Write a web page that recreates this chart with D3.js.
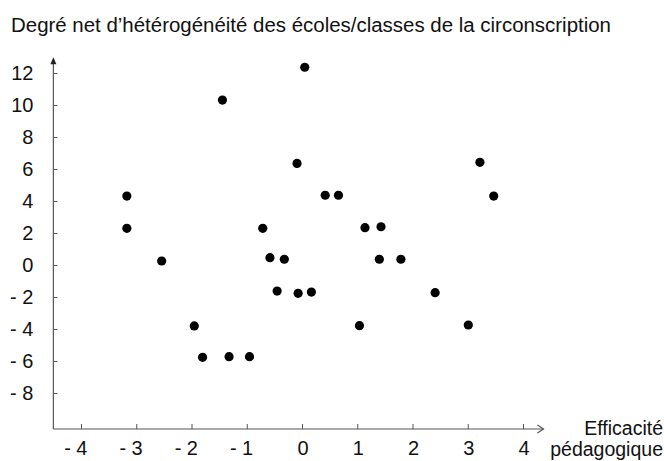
<!DOCTYPE html>
<html>
<head>
<meta charset="utf-8">
<script src="https://cdn.jsdelivr.net/npm/d3@7"></script>
<style>
  body { margin: 0; background: #fff; }
  text { font-family: "Liberation Sans", Arial, sans-serif; fill: #111; }
</style>
</head>
<body>
<svg id="chart" width="664" height="461"></svg>
<script>
// Tick values for both axes.
const xTicks = [-4, -3, -2, -1, 0, 1, 2, 3, 4];
const yTicks = [-8, -6, -4, -2, 0, 2, 4, 6, 8, 10, 12];

// Each school: pedagogical efficiency (x) and net heterogeneity (y).
const efficacite = [-3.17, -3.17, -2.54, -1.95, -1.80, -1.32, -0.95, -1.44, -0.71,
    -0.58, -0.32, -0.45, -0.07, 0.17, -0.09, 0.05, 0.42, 0.66, 1.14, 1.43, 1.40,
    1.79, 1.04, 2.41, 3.01, 3.22, 3.47];
const heterogeneite = [4.31, 2.29, 0.25, -3.81, -5.77, -5.73, -5.73, 10.31, 2.29,
    0.46, 0.36, -1.63, -1.77, -1.69, 6.35, 12.36, 4.36, 4.36, 2.33, 2.39, 0.36,
    0.36, -3.79, -1.73, -3.75, 6.42, 4.31];

const titre = "Degré net d\u2019hétérogénéité des écoles/classes de la circonscription";

const svg = d3.select("#chart");

const x = d3.scaleLinear().domain([-4, 4]).range([81, 523]);
const y = d3.scaleLinear().domain([-8, 12]).range([393, 73]);

// Axes cross at bottom-left, a bit past the last ticks.
const xMin = -4.5, xMax = 4.37;
const yMin = -10.25, yMax = 12.8;

const fmt = function(d) {
    return d < 0 ? "- " + (-d) : String(d);
};

// Y axis, ticks pointing inward.
const gy = svg.append("g")
    .attr("transform", "translate(" + x(xMin) + ",0)")
    .call(d3.axisLeft(y).tickValues(yTicks).tickSize(-4).tickPadding(20).tickFormat(fmt));

// X axis, ticks pointing up.
const gx = svg.append("g")
    .attr("transform", "translate(0," + y(yMin) + ")")
    .call(d3.axisBottom(x).tickValues(xTicks).tickSize(-5).tickPadding(12).tickFormat(fmt));

[gx, gy].forEach(function(g) {
    g.select(".domain").remove();
    g.attr("font-size", 20).attr("font-family", null);
    g.selectAll(".tick line").attr("stroke", "#555").attr("stroke-width", 1);
    g.selectAll(".tick text").attr("fill", "#111");
});

// Keep digits centred on the ticks, minus sign hanging to the left.
gx.selectAll(".tick text").attr("text-anchor", "end").attr("x", 6);

// Axis lines.
svg.append("line")
    .attr("x1", x(xMin)).attr("x2", x(xMin))
    .attr("y1", y(yMin)).attr("y2", y(yMax))
    .attr("stroke", "#555").attr("stroke-width", 1.2);

svg.append("line")
    .attr("x1", x(xMin)).attr("x2", x(xMax))
    .attr("y1", y(yMin)).attr("y2", y(yMin))
    .attr("stroke", "#555").attr("stroke-width", 1.2);

// Filled arrow on the y axis.
let ax = x(xMin), ay = y(yMax);
svg.append("path")
    .attr("d", "M" + ax + "," + (ay - 3) + "L" + (ax - 3) + "," + (ay + 4) + "L" + (ax + 3) + "," + (ay + 4) + "Z")
    .attr("fill", "#222");

// Open chevron on the x axis.
let bx = x(xMax), by = y(yMin);
svg.append("path")
    .attr("d", "M" + (bx - 6) + "," + (by - 4) + "L" + bx + "," + by + "L" + (bx - 6) + "," + (by + 4))
    .attr("fill", "none").attr("stroke", "#555").attr("stroke-width", 1.2);

// Points.
svg.append("g")
    .selectAll("circle")
    .data(d3.range(efficacite.length))
    .join("circle")
    .attr("cx", function(i) { return x(efficacite[i]); })
    .attr("cy", function(i) { return y(heterogeneite[i]); })
    .attr("r", 4.6)
    .attr("fill", "#000");

// Title, squeezed to the width it takes in the reference (narrow Helvetica).
svg.append("text")
    .attr("x", 11).attr("y", 32)
    .attr("font-size", 20)
    .attr("textLength", 600)
    .attr("lengthAdjust", "spacingAndGlyphs")
    .text(titre);

// X axis caption.
svg.append("text")
    .attr("x", 663).attr("y", 435)
    .attr("text-anchor", "end")
    .attr("font-size", 19.5)
    .text("Efficacité");
svg.append("text")
    .attr("x", 663).attr("y", 456)
    .attr("text-anchor", "end")
    .attr("font-size", 19.5)
    .text("pédagogique");
</script>
</body>
</html>
